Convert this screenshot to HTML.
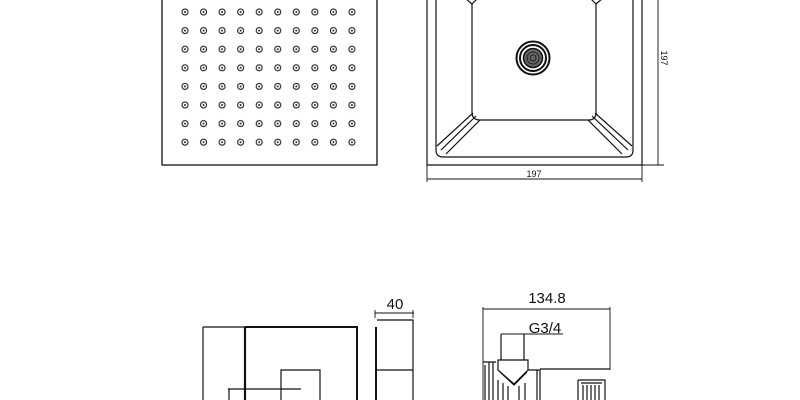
<!DOCTYPE html>
<html><head><style>html,body{margin:0;padding:0;background:#fff}svg{display:block}</style></head>
<body>
<svg width="800" height="400" viewBox="0 0 800 400" xmlns="http://www.w3.org/2000/svg" font-family="Liberation Sans, sans-serif">
<defs>
<pattern id="dp" patternUnits="userSpaceOnUse" x="175.725" y="2.7" width="18.55" height="18.6">
<circle cx="9.275" cy="9.3" r="3" fill="none" stroke="#222" stroke-width="1.1"/>
<circle cx="9.275" cy="9.3" r="1" fill="#222"/>
</pattern>
</defs>
<rect width="800" height="400" fill="#fff"/>
<rect x="175.725" y="2.7" width="185.5" height="148.8" fill="url(#dp)"/>
<g stroke="#111" fill="none" stroke-width="1.3">
<rect x="162" y="-2" width="215" height="167"/>
</g>
<g stroke="#111" fill="none" stroke-width="1.2">
<path d="M427 0 V165 H642 V0"/>
<path d="M436 0 V150 Q436 157 443 157 H626 Q633 157 633 150 V0"/>
<path d="M472 4 V112 Q472 120 480 120 H589 Q596 120 596 112 V4"/>
<path d="M472 4 L465 -2 M472 4 L478 -2 M596 4 L590 -2 M596 4 L603 -2"/>
<path d="M473 113 L437 146 M480 120 L446 154 M476 116 L441 150"/>
<path d="M595 113 L632 146 M588 120 L622 154 M592 116 L628 150"/>
<circle cx="533" cy="58" r="16.5" stroke-width="2"/>
<circle cx="533" cy="58" r="13" stroke-width="2"/>
<circle cx="533" cy="58" r="9.5" fill="#666" stroke-width="1.5"/>
<circle cx="533" cy="58" r="6" stroke="#222" stroke-width="1"/>
<circle cx="533" cy="58" r="3" stroke="#222" stroke-width="1"/>
<path d="M427 165 V182 M642 165 V182 M427 179 H642" stroke-width="0.9"/>
<path d="M642 165 H664 M658 0 V165" stroke-width="0.9"/>
</g>
<text x="534" y="177" font-size="9" text-anchor="middle" fill="#111">197</text>
<text x="0" y="0" font-size="9" text-anchor="middle" fill="#111" transform="translate(661,58) rotate(90)">197</text>
<g stroke="#111" fill="none" stroke-width="1.2">
<path d="M203 327 H245 M203 327 V400"/>
<path d="M245 327 H357 V400" stroke-width="2"/>
<path d="M245 327 V400" stroke-width="2.2"/>
<path d="M281 400 V370 H320 V400"/>
<path d="M228 389 H301 M229 389 V400"/>
<path d="M376 327 V400" stroke-width="2"/>
<path d="M377 320 H413 V400 M377 370 H413"/>
<path d="M375 313 H414 M375 310 V318 M413 310 V318" stroke-width="0.9"/>
<path d="M483 309 H610 M483 307 V400 M610 307 V370" stroke-width="0.9"/>
<path d="M501 334 H563" stroke-width="0.9"/>
<path d="M501 334 V360 M524 334 V360"/>
<path d="M498 360 H528 V370 L514 384 L498 370 Z"/>
<path d="M500 372 L514 385 L527 372"/>
<path d="M485 365 V400 M489 362 V400 M493 362 V400 M483 362 H496"/>
<path d="M498 380 V400 M503 383 V400 M508 386 V400 M519 386 V400 M525 383 V400"/>
<path d="M528 370 H540 V400 M537 370 V400 M540 369 H610"/>
<path d="M578 380 H605 V400 M578 380 V400 M581 383 H602"/>
<path d="M583 385 V400 M587 385 V400 M591 385 V400 M595 385 V400 M599 385 V400"/>
</g>
<text x="395" y="309" font-size="15" text-anchor="middle" fill="#111">40</text>
<text x="547" y="303" font-size="15" text-anchor="middle" fill="#111">134.8</text>
<text x="545" y="333" font-size="15" text-anchor="middle" fill="#111">G3/4</text>
</svg>
</body></html>
